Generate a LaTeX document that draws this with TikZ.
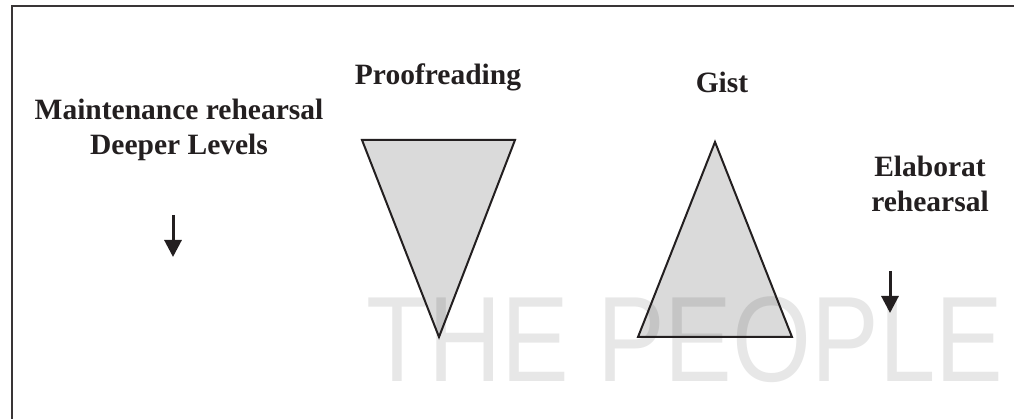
\documentclass[tikz,border=0pt]{standalone}
\usepackage{fontspec}
\setmainfont{Liberation Serif}
\newfontfamily\wmfont{Liberation Sans}
\usetikzlibrary{arrows.meta}
\definecolor{ink}{RGB}{35,31,32}
\definecolor{wm}{RGB}{231,231,231}
\tikzset{
  lbl/.style={font=\fontsize{29.5}{35}\selectfont\bfseries, text=ink, align=center, inner sep=0pt},
  tri/.style={draw=ink, fill=black, fill opacity=0.145, line width=2pt, line join=miter},
  downarrow/.style={draw=ink, line width=3pt, -{Triangle[width=17pt,length=17pt]}},
  frame/.style={draw=ink!90, line width=2pt}
}
\begin{document}
\begin{tikzpicture}[x=1pt,y=-1pt]
\useasboundingbox (0,0) rectangle (1014,419);
% watermark
\node[anchor=base west, inner sep=0pt, text=wm, xscale=0.835, font=\wmfont\fontsize{121.5}{130}\selectfont] (wmark) at (366,381) {THE PEOPLE};
% frame
\coordinate (fTR) at (1014,6);
\coordinate (fTL) at (12,6);
\coordinate (fBL) at (12,419);
\draw[frame] (fTR) -- (fTL) -- (fBL);
% labels
\node[lbl, anchor=base] (maint) at (179,155) {Maintenance rehearsal\\Deeper Levels};
\node[lbl, anchor=base] (proof) at (438,85) {Proofreading};
\node[lbl, anchor=base] (gist) at (722,93) {Gist};
\node[lbl, anchor=base] (elab) at (930,212) {Elaborat\\rehearsal};
% arrows
\coordinate (a1s) at (173,215);
\coordinate (a1e) at (173,257);
\draw[downarrow] (a1s) -- (a1e);
\coordinate (a2s) at (890,271);
\coordinate (a2e) at (890,313);
\draw[downarrow] (a2s) -- (a2e);
% triangles
\coordinate (p1) at (362,140);
\coordinate (p2) at (515,140);
\coordinate (p3) at (439,337);
\draw[tri] (p1) -- (p2) -- (p3) -- cycle;
\coordinate (g1) at (715,142);
\coordinate (g2) at (792,337);
\coordinate (g3) at (638,337);
\draw[tri] (g1) -- (g2) -- (g3) -- cycle;
\end{tikzpicture}
\end{document}
